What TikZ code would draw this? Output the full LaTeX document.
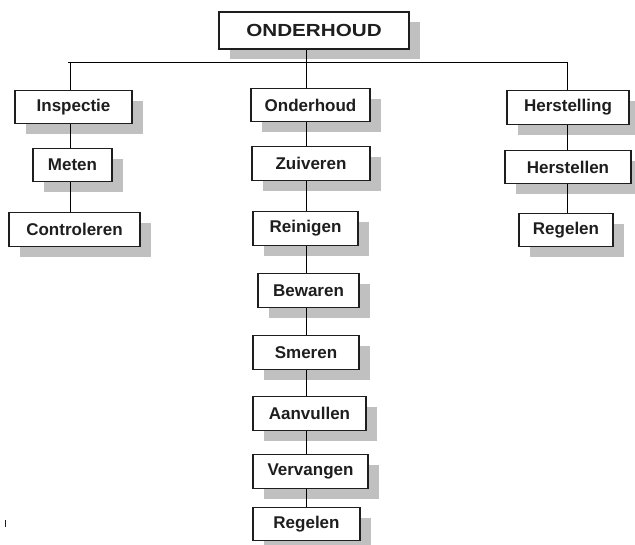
\documentclass[tikz,border=0pt]{standalone}
\usepackage{fontspec}
\setmainfont{Liberation Sans}
\newfontfamily\titlefont[FakeStretch=1.18]{Liberation Sans}
\usetikzlibrary{shadows}
\definecolor{shadowgray}{RGB}{192,192,192}
\definecolor{inkgray}{RGB}{30,30,30}
\begin{document}
\begin{tikzpicture}[x=1pt,y=-1pt,
  box/.style={draw=inkgray, line width=1.1pt, fill=white, inner sep=0pt,
    minimum height=33.5pt, text=inkgray,
    font=\fontsize{17}{19}\selectfont\bfseries,
    drop shadow={shadow xshift=11pt, shadow yshift=-10.5pt, fill=shadowgray, opacity=1}},
  link/.style={draw=black, line width=0.8pt}]
\useasboundingbox (0,0) rectangle (635,545);
% top
\node[box, minimum width=190pt, minimum height=37pt, font=\titlefont\fontsize{17.5}{19}\selectfont\bfseries] (top) at (314,30.5) {ONDERHOUD};
% left column
\node[box, minimum width=117pt] (insp) at (73.5,107) {Inspectie};
\node[box, minimum width=79pt] (meten) at (72.5,165) {Meten};
\node[box, minimum width=131pt] (contr) at (74.5,229.5) {Controleren};
% middle column
\node[box, minimum width=119pt] (onder) at (310.5,105) {Onderhoud};
\node[box, minimum width=118pt] (zuiv) at (311,163.5) {Zuiveren};
\node[box, minimum width=105pt] (rein) at (305.5,228.5) {Reinigen};
\node[box, minimum width=101pt] (bew) at (308.5,290.5) {Bewaren};
\node[box, minimum width=106pt] (smer) at (306,352.5) {Smeren};
\node[box, minimum width=113pt] (aanv) at (309.5,413.5) {Aanvullen};
\node[box, minimum width=115pt] (verv) at (310.5,471.5) {Vervangen};
\node[box, minimum width=107pt] (regM) at (306.5,524) {Regelen};
% right column
\node[box, minimum width=122pt] (herstl) at (568,107.5) {Herstelling};
\node[box, minimum width=126pt] (herstn) at (568,167) {Herstellen};
\node[box, minimum width=94pt] (regR) at (566,230) {Regelen};
% column coordinates
\coordinate (cL) at (70,62);
\coordinate (cM) at (306.5,62);
\coordinate (cR) at (567,62);
\coordinate (hL) at (68,62);
% connectors
\draw[link] (hL) -- (cR);
\draw[link] (top.south -| cM) -- (onder.north -| cM);
\draw[link] (cL) -- (insp.north -| cL);
\draw[link] (cR) -- (herstl.north -| cR);
\draw[link] (insp.south -| cL) -- (meten.north -| cL);
\draw[link] (meten.south -| cL) -- (contr.north -| cL);
\draw[link] (herstl.south -| cR) -- (herstn.north -| cR);
\draw[link] (herstn.south -| cR) -- (regR.north -| cR);
\draw[link] (onder.south -| cM) -- (zuiv.north -| cM);
\draw[link] (zuiv.south -| cM) -- (rein.north -| cM);
\draw[link] (rein.south -| cM) -- (bew.north -| cM);
\draw[link] (bew.south -| cM) -- (smer.north -| cM);
\draw[link] (smer.south -| cM) -- (aanv.north -| cM);
\draw[link] (aanv.south -| cM) -- (verv.north -| cM);
\draw[link] (verv.south -| cM) -- (regM.north -| cM);
% stray mark
\coordinate (m1) at (5,520);
\coordinate (m2) at (5,527);
\draw[draw=inkgray, line width=1pt] (m1) -- (m2);
\end{tikzpicture}
\end{document}
